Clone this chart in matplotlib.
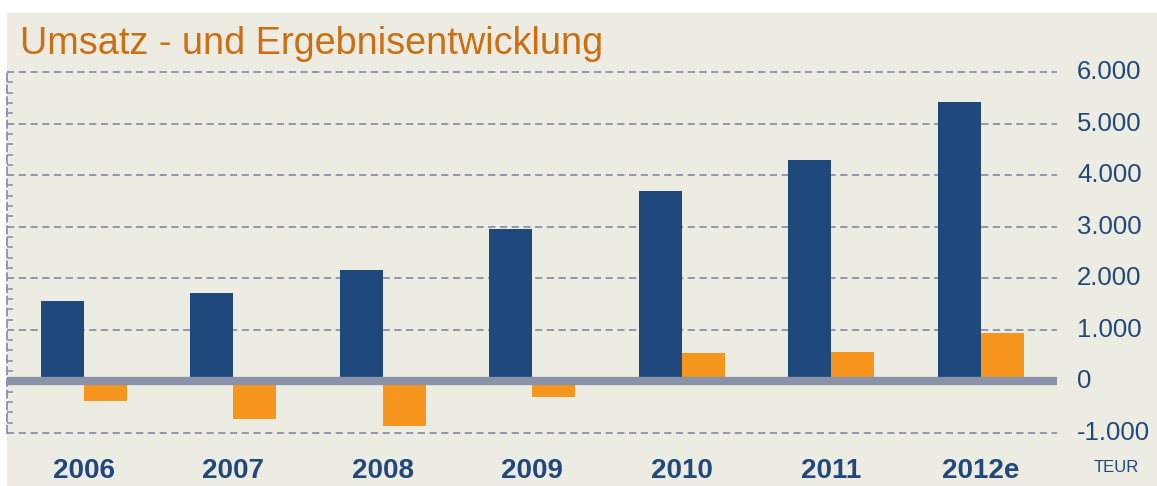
import numpy as np
import matplotlib.pyplot as plt
from matplotlib.patches import Rectangle
from matplotlib.ticker import MultipleLocator
from matplotlib.transforms import blended_transform_factory

# chart data (TEUR)
years = ["2006", "2007", "2008", "2009", "2010", "2011", "2012e"]
umsatz = [1550, 1710, 2170, 2950, 3690, 4290, 5420]
ergebnis = [-370, -720, -870, -310, 560, 580, 930]
y_ticks = [-1000, 0, 1000, 2000, 3000, 4000, 5000, 6000]
y_labels = ["-1.000", "0", "1.000", "2.000", "3.000", "4.000", "5.000", "6.000"]

BG = "#EDECE2"
BLUE = "#1F487C"
ORANGE = "#F7961F"
GRID = "#8A92AA"
TEXT_BLUE = "#1F487C"
TITLE = "#CC6E12"

plt.rcParams['font.family'] = ['Liberation Sans', 'DejaVu Sans']

W, H = 1157, 486
fig = plt.figure(figsize=(W / 100, H / 100), dpi=100, facecolor="white")
# beige panel (white margin top and left)
fig.patches.append(Rectangle((7 / W, 0), 1 - 7 / W, 1 - 13 / H,
                             transform=fig.transFigure, facecolor=BG,
                             edgecolor="none", zorder=-10))

ax = fig.add_axes([7 / W, 53 / H, 1050 / W, 361 / H])
ax.set_facecolor("none")

x = np.arange(len(years))
bw = 0.288
ax.bar(x - bw / 2, umsatz, width=bw, color=BLUE, zorder=3)
ax.bar(x + bw / 2, ergebnis, width=bw, color=ORANGE, zorder=3)

ax.set_xlim(-0.515, 6.51)
ax.set_ylim(-1000, 6000)

# dashed grid lines + thick zero line
for v in y_ticks:
    if v == 0:
        ax.axhline(0, color=GRID, lw=6, zorder=4)
    else:
        ax.axhline(v, color=GRID, lw=1.3, ls=(0, (4, 2.5)), zorder=1,
                   clip_on=False)

for s in ["top", "right", "bottom"]:
    ax.spines[s].set_visible(False)
ax.spines["left"].set_color(GRID)
ax.spines["left"].set_linestyle((0, (4, 2.5)))
ax.spines["left"].set_linewidth(1.3)

ax.yaxis.set_minor_locator(MultipleLocator(200))
ax.tick_params(axis="y", which="minor", direction="in", length=4,
               width=1.2, color=GRID, left=True, labelleft=False)
ax.set_yticks(y_ticks)
ax.tick_params(axis="y", which="major", left=False, labelleft=False)
ax.set_xticks([])

# right side value labels
tr_right = blended_transform_factory(fig.transFigure, ax.transData)
for v, lab in zip(y_ticks, y_labels):
    ax.text(1077 / W, v, lab, transform=tr_right, fontsize=18.5,
            color=TEXT_BLUE, ha="left", va="center", clip_on=False)

# year labels under the bars
tr_bottom = blended_transform_factory(ax.transData, fig.transFigure)
for i, yr in enumerate(years):
    ax.text(i, 1 - 471 / H, yr, transform=tr_bottom, fontsize=20,
            fontweight="bold", color=TEXT_BLUE, ha="center", va="center",
            clip_on=False)

fig.text(1116 / W, 1 - 467 / H, "TEUR", fontsize=12, color=TEXT_BLUE,
         ha="center", va="center")
fig.text(20 / W, 1 - 44 / H, "Umsatz - und Ergebnisentwicklung",
         fontsize=27.3, color=TITLE, ha="left", va="center")

fig.savefig("out.png", dpi=100, facecolor="white")
